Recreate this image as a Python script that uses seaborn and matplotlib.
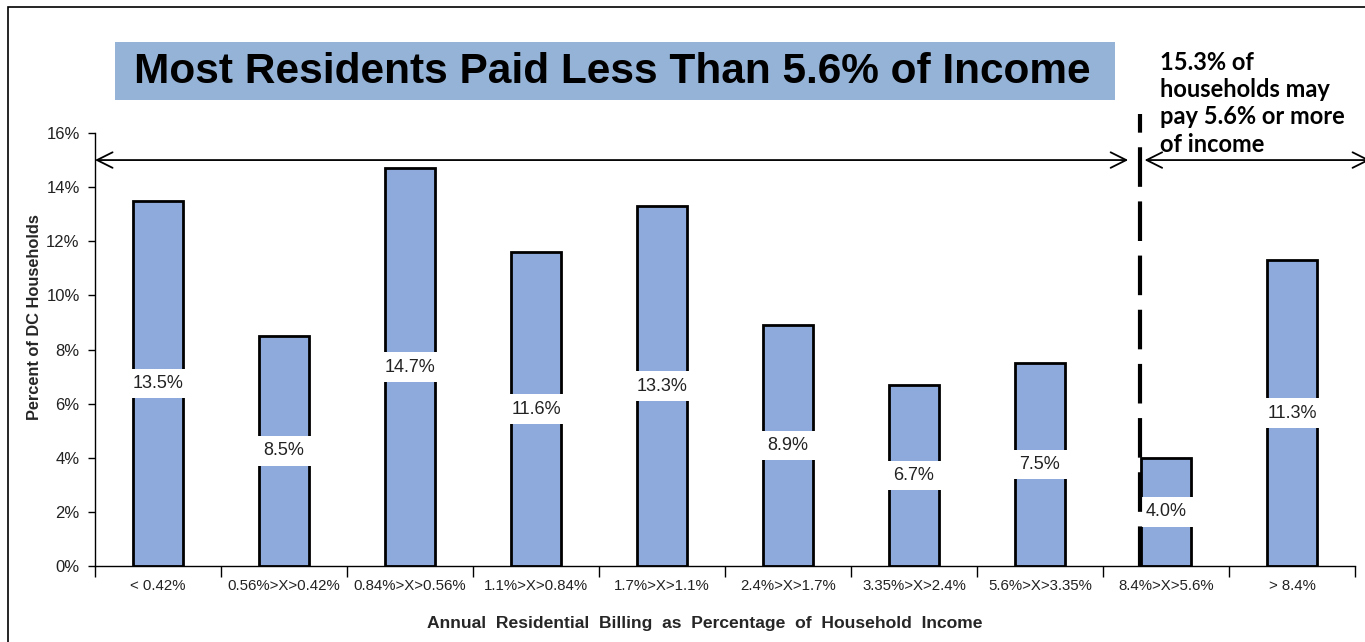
import matplotlib
matplotlib.use("Agg")
import matplotlib.pyplot as plt
import matplotlib.patches as mpatches
from matplotlib.ticker import FuncFormatter, FixedLocator
import seaborn as sns
import pandas as pd

categories = ["< 0.42%", "0.56%>X>0.42%", "0.84%>X>0.56%", "1.1%>X>0.84%",
              "1.7%>X>1.1%", "2.4%>X>1.7%", "3.35%>X>2.4%", "5.6%>X>3.35%",
              "8.4%>X>5.6%", "> 8.4%"]
shares = [13.5, 8.5, 14.7, 11.6, 13.3, 8.9, 6.7, 7.5, 4.0, 11.3]
y_ticks = [0, 2, 4, 6, 8, 10, 12, 14, 16]

title_text = "Most Residents Paid Less Than 5.6% of Income"
note_text = "15.3% of\nhouseholds may\npay 5.6% or more\nof income"
x_title = "Annual  Residential  Billing  as  Percentage  of  Household  Income"
y_title = "Percent of DC Households"

sns.set_style("white")
plt.rcParams["font.family"] = ["Liberation Sans", "DejaVu Sans"]

df = pd.DataFrame({"cat": categories, "share": shares})

W, H = 1365, 642
fig = plt.figure(figsize=(W / 100, H / 100), dpi=100)
ax = fig.add_axes([95 / W, (H - 566) / H, 1260 / W, (566 - 133) / H])

sns.barplot(data=df, x="cat", y="share", order=categories, color="#8EA9DB",
            saturation=1, width=0.4, edgecolor="black", linewidth=2, ax=ax)

ax.set_xlim(-0.5, 9.5)
ax.set_ylim(0, 16)
ax.set_yticks(y_ticks)
ax.yaxis.set_major_formatter(FuncFormatter(lambda v, p: f"{v:.0f}%"))
ax.tick_params(axis="y", direction="out", length=5, width=1, colors="black",
               labelsize=12, labelcolor="#222222", pad=6, left=True)

# category boundaries carry the tick marks, labels sit at the bar centres
ax.xaxis.set_major_locator(FixedLocator([i - 0.5 for i in range(len(categories) + 1)]))
ax.xaxis.set_minor_locator(FixedLocator(list(range(len(categories)))))
ax.set_xticklabels([""] * (len(categories) + 1))
ax.set_xticklabels(categories, minor=True)
ax.tick_params(axis="x", which="major", direction="out", length=8, width=1,
               colors="black", bottom=True)
ax.tick_params(axis="x", which="minor", length=0, labelsize=10.8,
               labelcolor="#222222", pad=9)

for side in ("top", "right"):
    ax.spines[side].set_visible(False)
for side in ("left", "bottom"):
    ax.spines[side].set_color("black")
    ax.spines[side].set_linewidth(1)

ax.set_xlabel(x_title, fontsize=12.6, fontweight="bold", labelpad=15)
ax.set_ylabel(y_title, fontsize=11.8, fontweight="bold", labelpad=6)
ax.yaxis.set_label_coords(-0.042, 0.575)
ax.xaxis.set_label_coords(0.484, -0.115)

# value labels centred in each bar
for i, v in enumerate(shares):
    ax.text(i, v / 2, f"{v:.1f}%", ha="center", va="center", fontsize=13,
            color="#222222",
            bbox=dict(boxstyle="square,pad=0.35", fc="white", ec="none"))

# divider at the 5.6% threshold
split_x = 7.79
ax.plot([split_x, split_x], [0, 16.7], color="black", lw=3,
        linestyle=(0, (9.5, 3.5)), clip_on=False, zorder=5)

arrow_kw = dict(arrowstyle="<->", color="black", lw=1.3, mutation_scale=28,
                shrinkA=0, shrinkB=0)
ax.annotate("", xy=(-0.5, 15), xytext=(7.70, 15), arrowprops=arrow_kw,
            annotation_clip=False)
ax.annotate("", xy=(7.83, 15), xytext=(9.62, 15), arrowprops=arrow_kw,
            annotation_clip=False)

# title banner
fig.patches.append(mpatches.Rectangle((115 / W, (H - 100) / H), 1000 / W, 58 / H,
                                      transform=fig.transFigure,
                                      facecolor="#95B3D7", edgecolor="none",
                                      zorder=0))
fig.text(612 / W, (H - 72) / H, title_text, ha="center", va="center",
         fontsize=30.5, fontweight="bold", color="black")

fig.text(1160 / W, (H - 51) / H, note_text, ha="left", va="top",
         fontsize=17, fontweight="bold", color="black",
         family=["Lato", "DejaVu Sans"], linespacing=1.22)

# outer frame
fig.patches.append(mpatches.Rectangle((8 / W, -0.1), 1.2, (H - 7) / H + 0.1,
                                      transform=fig.transFigure,
                                      facecolor="none", edgecolor="black",
                                      lw=1.2, zorder=10))

fig.savefig("out.png", dpi=100)
